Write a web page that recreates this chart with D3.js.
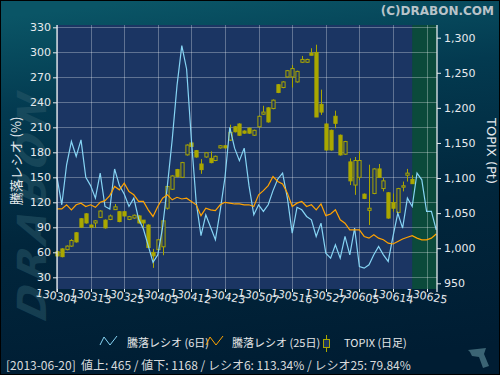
<!DOCTYPE html>
<html>
<head>
<meta charset="utf-8">
<script src="https://cdn.jsdelivr.net/npm/d3@7"></script>
<style>
  html, body { margin: 0; padding: 0; background: #001d33; }
  svg { display: block; font-family: "DejaVu Sans", Verdana, sans-serif; }
</style>
</head>
<body>
<div class="d3"></div>
<script>
// x axis labels, one every 7 trading days
const dateTicks = ['130304', '130313', '130325', '130403', '130412', '130423',
  '130507', '130516', '130527', '130605', '130614', '130625'];

// 騰落レシオ (6日) and (25日), one value per trading day
const ratio6 = [150, 117, 165, 193, 175, 195, 150, 140, 125, 155,
  115, 112, 160, 140, 130, 115, 125, 100, 88, 68,
  48, 57, 90, 140, 195, 260, 308, 280, 195, 120,
  80, 105, 90, 75, 110, 150, 210, 185, 170, 185,
  140, 105, 117, 109, 117, 134, 148, 155, 125, 83,
  114, 111, 103, 99, 79, 95, 59, 53, 69, 53,
  79, 57, 89, 43, 41, 45, 57, 67, 57, 49,
  79, 107, 89, 125, 115, 155, 147, 109, 109, 87];

const ratio25 = [112, 112, 117, 111, 117, 119, 115, 117, 114, 120,
  122, 128, 139, 135, 143, 133, 129, 121, 121, 111,
  103, 115, 125, 129, 123, 126, 124, 125, 121, 117,
  104, 113, 111, 110, 117, 120, 119, 118, 118, 117,
  117, 115, 129, 134, 140, 151, 145, 142, 131, 115,
  119, 121, 115, 117, 111, 118, 104, 106, 111, 99,
  95, 87, 87, 87, 79, 77, 81, 77, 75, 71,
  70, 73, 76, 78, 80, 77, 75, 75, 77, 82];

// TOPIX daily candles
const topixOpen = [995, 999, 998, 1003, 1022, 1042, 1049, 1033, 1036, 1044,
  1040, 1041, 1055, 1052, 1052, 1041, 1043, 1046, 1040, 1033,
  994, 998, 1002, 1057, 1084, 1112, 1101, 1133, 1150, 1139,
  1120, 1130, 1128, 1125, 1143, 1146, 1154, 1173, 1177, 1167,
  1171, 1161, 1173, 1191, 1200, 1199, 1233, 1229, 1244, 1244,
  1237, 1265, 1265, 1278, 1279, 1205, 1177, 1168, 1188, 1161,
  1134, 1123, 1090, 1101, 1077, 1054, 1078, 1113, 1085, 1079,
  1065, 1051, 1087, 1104, 1098];
const topixHigh = [996, 1000, 1004, 1013, 1023, 1043, 1050, 1034, 1040, 1054,
  1041, 1048, 1063, 1053, 1053, 1046, 1048, 1047, 1040, 1034,
  999, 1013, 1040, 1090, 1104, 1113, 1123, 1148, 1151, 1140,
  1127, 1137, 1138, 1132, 1147, 1147, 1176, 1174, 1178, 1168,
  1172, 1169, 1189, 1203, 1201, 1212, 1234, 1238, 1254, 1261,
  1253, 1274, 1270, 1285, 1290, 1226, 1178, 1169, 1196, 1162,
  1153, 1128, 1130, 1138, 1078, 1119, 1114, 1120, 1100, 1080,
  1078, 1086, 1095, 1113, 1104];
const topixLow = [988, 987, 997, 1002, 1008, 1029, 1035, 1029, 1029, 1043,
  1028, 1040, 1055, 1037, 1045, 1040, 1042, 1035, 1029, 1000,
  972, 997, 990, 1055, 1083, 1101, 1100, 1132, 1144, 1129,
  1106, 1129, 1121, 1124, 1142, 1142, 1153, 1165, 1160, 1163,
  1163, 1160, 1172, 1190, 1179, 1198, 1221, 1228, 1243, 1229,
  1236, 1264, 1264, 1275, 1187, 1190, 1139, 1139, 1171, 1132,
  1133, 1090, 1076, 1097, 1070, 1033, 1077, 1100, 1081, 1042,
  1052, 1050, 1081, 1095, 1092];
const topixClose = [989, 988, 1003, 1011, 1009, 1030, 1036, 1030, 1039, 1053,
  1029, 1046, 1059, 1038, 1046, 1045, 1047, 1036, 1036, 1001,
  989, 1012, 1039, 1088, 1103, 1102, 1122, 1147, 1145, 1130,
  1112, 1136, 1122, 1131, 1146, 1143, 1165, 1166, 1161, 1164,
  1164, 1168, 1188, 1194, 1180, 1211, 1222, 1237, 1253, 1256,
  1252, 1269, 1269, 1275, 1187, 1194, 1140, 1140, 1178, 1133,
  1152, 1096, 1125, 1125, 1071, 1057, 1113, 1101, 1096, 1043,
  1057, 1085, 1089, 1107, 1092];

const leftTicks = [30, 60, 90, 120, 150, 180, 210, 240, 270, 300, 330];
const rightTicks = [950, 1000, 1050, 1100, 1150, 1200, 1250, 1300];

const legendNames = ['騰落レシオ (6日)', '騰落レシオ (25日)', 'TOPIX (日足)'];
const footer = '[2013-06-20]  値上: 465 / 値下: 1168 / レシオ6: 113.34% / レシオ25: 79.84%';

const width = 500;
const height = 375;
const plot = { left: 57, right: 437, top: 25, bottom: 289 };

let svg = d3.select('.d3').append('svg')
  .attr('width', width)
  .attr('height', height);

let defs = svg.append('defs');
let bg = defs.append('linearGradient')
  .attr('id', 'bg')
  .attr('x1', 0.3).attr('y1', 0).attr('x2', 0.45).attr('y2', 1);
bg.append('stop').attr('offset', 0).attr('stop-color', '#0a5566');
bg.append('stop').attr('offset', 0.25).attr('stop-color', '#033a50');
bg.append('stop').attr('offset', 0.6).attr('stop-color', '#01263c');
bg.append('stop').attr('offset', 1).attr('stop-color', '#001d33');

svg.append('rect')
  .attr('width', width).attr('height', height)
  .attr('fill', 'url(#bg)');

// faint watermark on the left
svg.append('text')
  .attr('transform', 'translate(46,322) rotate(-90) skewX(-15)')
  .attr('font-size', 40)
  .attr('font-weight', 'bold')
  .attr('font-style', 'italic')
  .attr('textLength', 225)
  .attr('fill', '#2b5a6a')
  .attr('opacity', 0.5)
  .text('DRABON');

let x = d3.scaleLinear().domain([0, 77]).range([57, 426.6]);
let yL = d3.scaleLinear().domain([30, 330]).range([277.3, 27.3]);
let yR = d3.scaleLinear().domain([950, 1300]).range([283.3, 37.7]);

// plot background and future area
svg.append('rect')
  .attr('x', plot.left).attr('y', plot.top)
  .attr('width', plot.right - plot.left).attr('height', plot.bottom - plot.top)
  .attr('fill', '#1b3563');
svg.append('rect')
  .attr('x', x(topixClose.length - 1)).attr('y', plot.top)
  .attr('width', plot.right - x(topixClose.length - 1)).attr('height', plot.bottom - plot.top)
  .attr('fill', '#0b4a3b');

let grid = svg.append('g')
  .attr('stroke', '#ffffff')
  .attr('stroke-opacity', 0.3)
  .attr('stroke-width', 1);
grid.selectAll('line.h')
  .data(leftTicks)
  .enter()
  .append('line')
  .attr('x1', plot.left).attr('x2', plot.right)
  .attr('y1', d => Math.round(yL(d)) + 0.5)
  .attr('y2', d => Math.round(yL(d)) + 0.5);
grid.selectAll('line.v')
  .data(dateTicks)
  .enter()
  .append('line')
  .attr('y1', plot.top).attr('y2', plot.bottom)
  .attr('x1', (d, i) => Math.round(x(i * 7)) + 0.5)
  .attr('x2', (d, i) => Math.round(x(i * 7)) + 0.5);

// candles
let candles = svg.append('g');
let bw = 3.2;
topixClose.forEach((c, i) => {
  let o = topixOpen[i];
  let up = c >= o;
  let cx = Math.round(x(i)) + 0.5;
  candles.append('line')
    .attr('x1', cx).attr('x2', cx)
    .attr('y1', yR(topixHigh[i])).attr('y2', yR(topixLow[i]))
    .attr('stroke', '#a9a600');
  candles.append('rect')
    .attr('x', cx - bw / 2).attr('width', bw)
    .attr('y', yR(Math.max(o, c)))
    .attr('height', Math.max(1, Math.abs(yR(o) - yR(c))))
    .attr('fill', up ? '#1b3563' : '#aaa800')
    .attr('stroke', '#a9a600')
    .attr('stroke-width', 1);
});

let line6 = d3.line().x((d, i) => x(i)).y(d => yL(d));
svg.append('path')
  .attr('d', line6(ratio6))
  .attr('fill', 'none')
  .attr('stroke', '#86d4f4')
  .attr('stroke-width', 1.2);
svg.append('path')
  .attr('d', line6(ratio25))
  .attr('fill', 'none')
  .attr('stroke', '#ffa200')
  .attr('stroke-width', 1.2);

// axes
let axisColor = '#e6eaee';
let leftAxis = svg.append('g')
  .attr('transform', `translate(${plot.left},0)`)
  .call(d3.axisLeft(yL).tickValues(leftTicks).tickSize(4).tickPadding(2));
let rightAxis = svg.append('g')
  .attr('transform', `translate(${plot.right},0)`)
  .call(d3.axisRight(yR).tickValues(rightTicks).tickSize(4).tickPadding(3).tickFormat(d3.format(',')));
[leftAxis, rightAxis].forEach(a => {
  a.select('.domain').attr('d', `M0,${plot.top}V${plot.bottom + 3}`)
    .attr('stroke', axisColor).attr('stroke-width', 1.3);
  a.selectAll('line').attr('stroke', axisColor);
  a.selectAll('text').attr('fill', axisColor).attr('font-size', 11)
    .attr('font-family', '"DejaVu Sans", Verdana, sans-serif');
});

let bottomAxis = svg.append('g');
dateTicks.forEach((t, i) => {
  let tx = Math.round(x(i * 7)) + 0.5;
  bottomAxis.append('line')
    .attr('x1', tx).attr('x2', tx)
    .attr('y1', plot.bottom).attr('y2', plot.bottom + 3)
    .attr('stroke', axisColor);
  bottomAxis.append('text')
    .attr('transform', `translate(${tx - 1},${plot.bottom + 8}) rotate(10)`)
    .attr('text-anchor', 'middle')
    .attr('dominant-baseline', 'middle')
    .attr('font-size', 11)
    .attr('fill', axisColor)
    .text(t);
});

// axis titles
svg.append('text')
  .attr('transform', 'translate(21,161) rotate(-90)')
  .attr('text-anchor', 'middle')
  .attr('font-size', 13)
  .attr('fill', axisColor)
  .attr('font-family', '"Noto Sans CJK JP", sans-serif')
  .text('騰落レシオ (%)');
svg.append('text')
  .attr('transform', 'translate(487,151) rotate(90)')
  .attr('text-anchor', 'middle')
  .attr('font-size', 13)
  .attr('fill', axisColor)
  .text('TOPIX (Pt)');

svg.append('text')
  .attr('x', 494).attr('y', 15)
  .attr('text-anchor', 'end')
  .attr('font-size', 12)
  .attr('font-weight', 'bold')
  .attr('fill', '#b9c3c9')
  .text('(C)DRABON.COM');

// legend
let legend = svg.append('g')
  .attr('font-size', 11)
  .attr('fill', '#e4e6e8')
  .attr('font-family', '"Noto Sans CJK JP", sans-serif');
let zig = 'M0,8L4,0L10,8L17,-1';
legend.append('path').attr('d', zig).attr('transform', 'translate(100,337)')
  .attr('fill', 'none').attr('stroke', '#86d4f4');
legend.append('text').attr('x', 127).attr('y', 347).text(legendNames[0]);
legend.append('path').attr('d', zig).attr('transform', 'translate(206,337)')
  .attr('fill', 'none').attr('stroke', '#ffa200');
legend.append('text').attr('x', 232).attr('y', 347).text(legendNames[1]);
legend.append('line').attr('x1', 326.5).attr('x2', 326.5).attr('y1', 335).attr('y2', 352)
  .attr('stroke', '#a9a600');
legend.append('rect').attr('x', 323.5).attr('y', 339.5).attr('width', 6).attr('height', 8)
  .attr('fill', '#1b3563').attr('stroke', '#a9a600');
legend.append('text').attr('x', 344).attr('y', 347).text(legendNames[2]);

svg.append('text')
  .attr('x', 6).attr('y', 370)
  .attr('font-size', 12)
  .attr('fill', '#d8dadc')
  .attr('font-family', '"Noto Sans CJK JP", sans-serif')
  .attr('xml:space', 'preserve')
  .text(footer);

// small logo bottom right
svg.append('path')
  .attr('d', 'M468,350L486,348L484,354L489,366L483,368L479,357L472,356L470,352Z')
  .attr('fill', '#3b6474');

svg.append('rect')
  .attr('x', 0.5).attr('y', 0.5)
  .attr('width', width - 1).attr('height', height - 1)
  .attr('fill', 'none').attr('stroke', '#000');
</script>
</body>
</html>
